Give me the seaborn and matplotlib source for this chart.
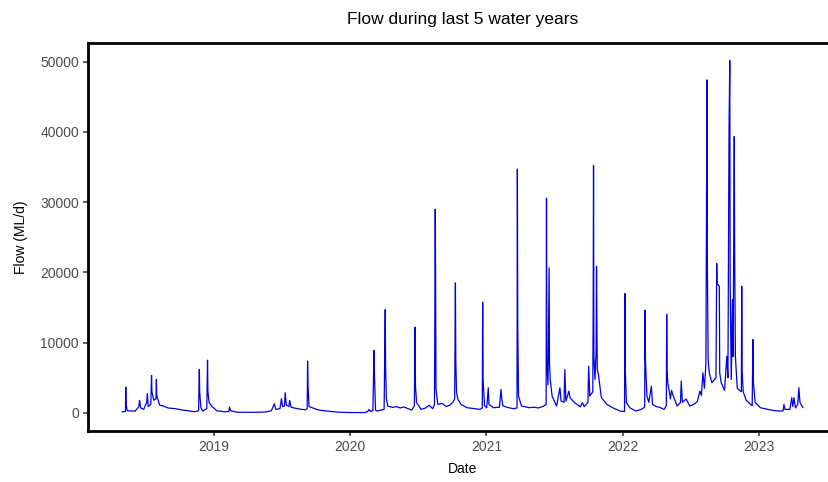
import pandas as pd
import seaborn as sns
import matplotlib.pyplot as plt
import matplotlib.dates as mdates

# daily flow, one list pair per water year (May - April)
wy2019_dates = ['2018-05-01', '2018-05-10', '2018-05-11', '2018-05-12', '2018-05-15', '2018-06-05',
                '2018-06-15', '2018-06-17', '2018-06-20', '2018-06-28', '2018-07-06', '2018-07-08',
                '2018-07-10', '2018-07-17', '2018-07-19', '2018-07-20', '2018-07-22', '2018-07-25',
                '2018-07-31', '2018-08-01', '2018-08-02', '2018-08-05', '2018-08-10', '2018-08-20',
                '2018-09-01', '2018-09-20', '2018-10-10', '2018-10-25', '2018-11-10', '2018-11-22',
                '2018-11-24', '2018-11-25', '2018-11-28', '2018-12-03', '2018-12-14', '2018-12-16',
                '2018-12-17', '2018-12-20', '2018-12-28', '2019-01-10', '2019-02-01', '2019-02-11',
                '2019-02-13', '2019-02-16', '2019-03-05', '2019-04-15']
wy2019_flow = [150, 200, 3670, 1200, 300, 250,
               900, 1780, 700, 500, 1500, 2730,
               900, 1200, 5330, 3000, 2500, 1800,
               2000, 4760, 2500, 1900, 1100, 970,
               700, 600, 400, 300, 170, 300,
               6180, 3000, 800, 250, 600, 7500,
               3100, 1500, 900, 300, 150, 200,
               830, 300, 100, 80]

wy2020_dates = ['2019-05-20', '2019-06-05', '2019-06-13', '2019-06-17', '2019-06-28', '2019-07-02',
                '2019-07-05', '2019-07-10', '2019-07-12', '2019-07-15', '2019-07-22', '2019-07-24',
                '2019-07-28', '2019-08-10', '2019-08-25', '2019-09-05', '2019-09-09', '2019-09-10',
                '2019-09-11', '2019-09-14', '2019-09-20', '2019-10-10', '2019-11-01', '2019-12-01',
                '2020-01-01', '2020-02-10', '2020-02-18', '2020-02-22', '2020-02-25', '2020-03-03',
                '2020-03-06', '2020-03-07', '2020-03-10', '2020-03-14', '2020-04-02', '2020-04-05',
                '2020-04-06', '2020-04-08', '2020-04-12', '2020-04-25']
wy2020_flow = [120, 300, 1300, 500, 600, 2020,
               900, 1000, 2870, 1100, 900, 1780,
               800, 640, 500, 450, 600, 7360,
               4050, 900, 780, 400, 260, 100,
               50, 40, 200, 500, 200, 300,
               8880, 5700, 400, 260, 500, 14700,
               6650, 2000, 970, 780]

wy2021_dates = ['2020-05-05', '2020-05-15', '2020-05-25', '2020-06-05', '2020-06-15', '2020-06-22',
                '2020-06-24', '2020-06-25', '2020-06-28', '2020-07-10', '2020-07-22', '2020-08-01',
                '2020-08-10', '2020-08-15', '2020-08-17', '2020-08-18', '2020-08-19', '2020-08-24',
                '2020-09-05', '2020-09-15', '2020-09-25', '2020-10-03', '2020-10-08', '2020-10-10',
                '2020-10-11', '2020-10-13', '2020-10-17', '2020-10-25', '2020-11-10', '2020-11-30',
                '2020-12-15', '2020-12-21', '2020-12-22', '2020-12-23', '2020-12-27', '2021-01-02',
                '2021-01-06', '2021-01-08', '2021-01-20', '2021-02-05', '2021-02-09', '2021-02-11',
                '2021-02-14', '2021-03-01', '2021-03-15', '2021-03-24', '2021-03-25', '2021-03-26',
                '2021-03-28', '2021-04-05', '2021-04-25']
wy2021_flow = [900, 700, 850, 600, 400, 1000,
               12200, 3800, 1450, 500, 700, 1070,
               600, 1200, 29000, 18000, 3340, 1200,
               1350, 900, 1100, 1500, 2000, 18500,
               7600, 2900, 1900, 1200, 740, 600,
               500, 700, 15750, 5000, 1000, 740,
               3580, 1200, 740, 800, 3340, 2160,
               1000, 740, 600, 700, 34700, 12580,
               2390, 1000, 740]

wy2022_dates = ['2021-05-10', '2021-05-20', '2021-06-01', '2021-06-10', '2021-06-11', '2021-06-12',
                '2021-06-15', '2021-06-18', '2021-06-19', '2021-06-21', '2021-06-26', '2021-07-08',
                '2021-07-17', '2021-07-20', '2021-07-28', '2021-07-30', '2021-08-02', '2021-08-10',
                '2021-08-13', '2021-08-25', '2021-09-10', '2021-09-15', '2021-09-20', '2021-09-30',
                '2021-10-02', '2021-10-05', '2021-10-13', '2021-10-14', '2021-10-15', '2021-10-16',
                '2021-10-19', '2021-10-22', '2021-10-23', '2021-10-24', '2021-10-25', '2021-10-28',
                '2021-11-05', '2021-11-20', '2021-12-05', '2021-12-25', '2022-01-06', '2022-01-07',
                '2022-01-08', '2022-01-11', '2022-01-20', '2022-02-05', '2022-02-20', '2022-03-01',
                '2022-03-02', '2022-03-03', '2022-03-07', '2022-03-12', '2022-03-19', '2022-03-22',
                '2022-04-01', '2022-04-10', '2022-04-22', '2022-04-28', '2022-04-29', '2022-04-30']
wy2022_flow = [800, 700, 900, 1200, 30580, 7600,
               4000, 20640, 7000, 4760, 2390, 970,
               3580, 1680, 1500, 6180, 1680, 3100,
               2160, 1450, 880, 1450, 900, 1500,
               6650, 2390, 3000, 14000, 35220, 8000,
               4760, 9000, 20860, 13760, 6180, 5500,
               2160, 1200, 740, 260, 200, 16980,
               6420, 1450, 740, 260, 500, 800,
               14610, 7700, 2390, 1500, 3800, 1200,
               900, 800, 500, 1000, 14000, 6000]

wy2023_dates = ['2022-05-02', '2022-05-05', '2022-05-09', '2022-05-12', '2022-05-16', '2022-05-27',
                '2022-06-05', '2022-06-07', '2022-06-10', '2022-06-20', '2022-06-30', '2022-07-10',
                '2022-07-20', '2022-07-27', '2022-07-31', '2022-08-04', '2022-08-08', '2022-08-12',
                '2022-08-15', '2022-08-16', '2022-08-18', '2022-08-21', '2022-08-28', '2022-09-08',
                '2022-09-10', '2022-09-11', '2022-09-14', '2022-09-17', '2022-09-18', '2022-09-22',
                '2022-10-01', '2022-10-07', '2022-10-10', '2022-10-13', '2022-10-15', '2022-10-16',
                '2022-10-19', '2022-10-22', '2022-10-24', '2022-10-27', '2022-10-28', '2022-10-30',
                '2022-11-04', '2022-11-15', '2022-11-16', '2022-11-17', '2022-11-20', '2022-11-28',
                '2022-12-14', '2022-12-16', '2022-12-17', '2022-12-22', '2023-01-05', '2023-01-25',
                '2023-02-15', '2023-03-01', '2023-03-07', '2023-03-09', '2023-03-12', '2023-03-25',
                '2023-03-30', '2023-04-02', '2023-04-05', '2023-04-09', '2023-04-15', '2023-04-18',
                '2023-04-21', '2023-04-29']
wy2023_flow = [4290, 3340, 2000, 3200, 2500, 970,
               1500, 4520, 1500, 1970, 970, 1200,
               1600, 3100, 2500, 5710, 3500, 7000,
               47400, 20860, 7600, 5710, 4290, 5000,
               21250, 18260, 18260, 18000, 5710, 4290,
               3200, 8070, 5000, 40530, 50140, 18500,
               4760, 16130, 8000, 39340, 23520, 8070,
               3500, 3000, 18020, 6000, 3000, 1800,
               1000, 10440, 4500, 1500, 740, 500,
               300, 260, 300, 1200, 500, 500,
               2160, 900, 2160, 700, 1200, 3580,
               1500, 740]

dates = wy2019_dates + wy2020_dates + wy2021_dates + wy2022_dates + wy2023_dates
flow = wy2019_flow + wy2020_flow + wy2021_flow + wy2022_flow + wy2023_flow
df = pd.DataFrame({'Date': pd.to_datetime(dates), 'Flow': flow})

sns.set_style("white")
plt.rcParams['font.family'] = ['Liberation Sans', 'DejaVu Sans']

fig = plt.figure(figsize=(8.29, 4.82), dpi=100)
ax = fig.add_axes([88 / 829, 51.5 / 482, 749 / 829, 387.5 / 482])

sns.lineplot(data=df, x='Date', y='Flow', ax=ax, color='#0000e6', linewidth=0.9, estimator=None)

span = df['Date'].max() - df['Date'].min()
ax.set_xlim(df['Date'].min() - span * 0.05, df['Date'].max() + span * 0.05)
fmax = df['Flow'].max()
ax.set_ylim(-fmax * 0.05, fmax * 1.05)

ax.xaxis.set_major_locator(mdates.YearLocator())
ax.xaxis.set_major_formatter(mdates.DateFormatter('%Y'))
ax.set_yticks([0, 10000, 20000, 30000, 40000, 50000])

for s in ax.spines.values():
    s.set_color('black')
    s.set_linewidth(2.0)
ax.tick_params(axis='both', which='major', length=3.5, width=1.1, color='#333333',
               labelcolor='#4d4d4d', labelsize=10, left=True, bottom=True, pad=3)

ax.set_xlabel('Date', fontsize=10, color='black', labelpad=6)
ax.set_ylabel('Flow (ML/d)', fontsize=10, color='black', labelpad=9)
ax.set_title('Flow during last 5 water years', fontsize=12.5, color='black', pad=14)

fig.savefig('out.png', dpi=100)
